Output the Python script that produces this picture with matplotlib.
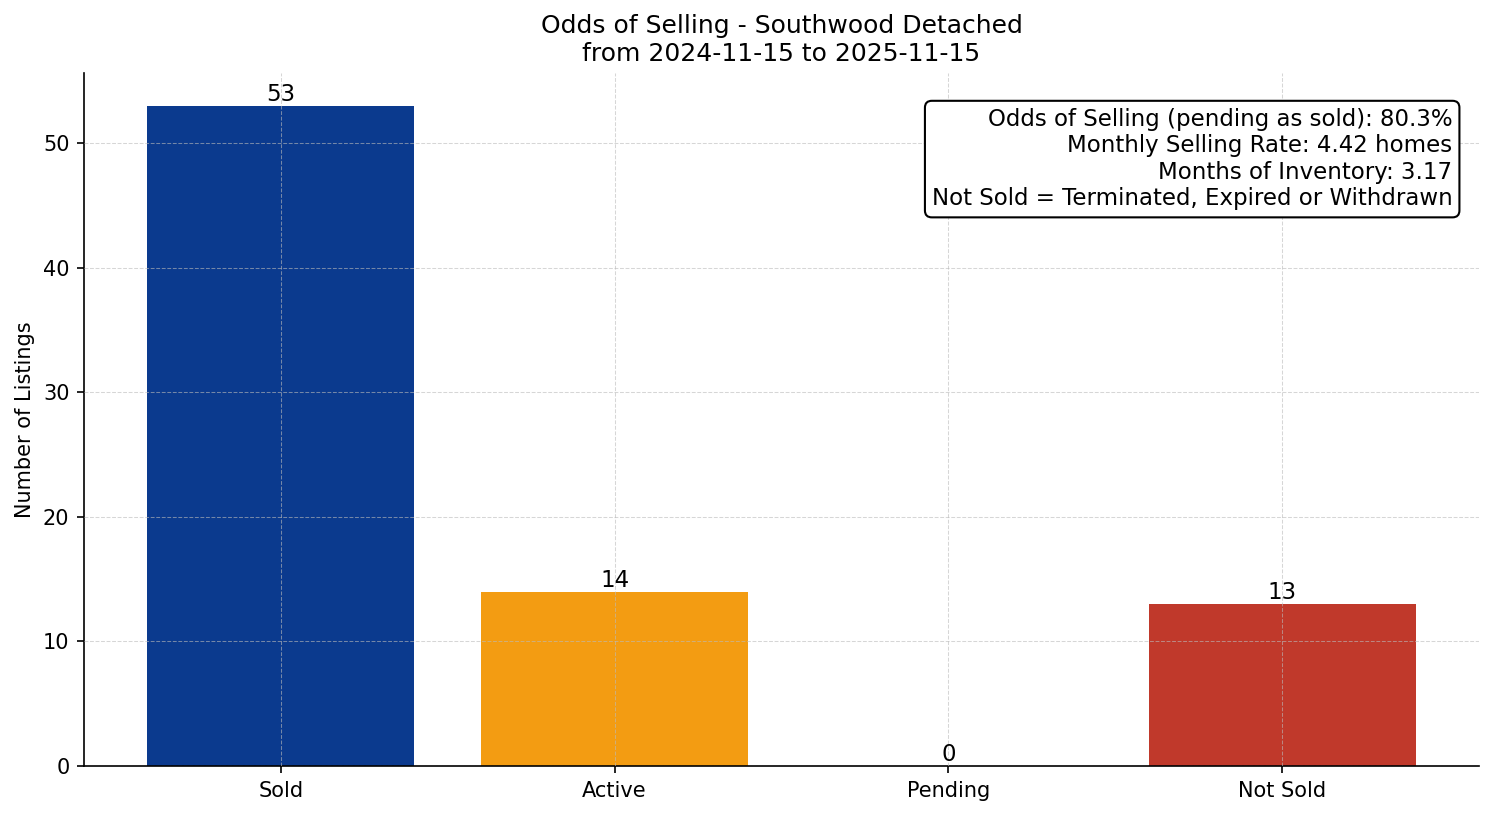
import matplotlib
matplotlib.use('Agg')
import matplotlib.pyplot as plt

# Chart data
categories = ['Sold', 'Active', 'Pending', 'Not Sold']
counts = [53, 14, 0, 13]
bar_colors = ['#0b3a8e', '#f39c12', '#2e86c1', '#c0392b']

odds_of_selling = 80.3
monthly_rate = 4.42
months_inventory = 3.17


def main():
    fig, ax = plt.subplots(figsize=(9.96, 5.44), dpi=150)

    bars = ax.bar(categories, counts, color=bar_colors, width=0.8)

    # Value labels above each bar
    for bar, value in zip(bars, counts):
        ax.text(bar.get_x() + bar.get_width() / 2, bar.get_height(), str(value),
                ha='center', va='bottom', fontsize=11)

    ax.set_ylabel('Number of Listings')
    ax.set_title('Odds of Selling - Southwood Detached\nfrom 2024-11-15 to 2025-11-15', fontsize=12)

    # Dashed grid drawn over the bars
    ax.set_axisbelow(False)
    ax.grid(True, linestyle='--', linewidth=0.5, color='#bbbbbb', alpha=0.6)

    ax.spines['top'].set_visible(False)
    ax.spines['right'].set_visible(False)

    summary = (f'Odds of Selling (pending as sold): {odds_of_selling:.1f}%\n'
               f'Monthly Selling Rate: {monthly_rate:.2f} homes\n'
               f'Months of Inventory: {months_inventory:.2f}\n'
               'Not Sold = Terminated, Expired or Withdrawn')
    ax.text(0.981, 0.95, summary, transform=ax.transAxes, ha='right', va='top',
            fontsize=11, multialignment='right',
            bbox=dict(boxstyle='round,pad=0.3', facecolor='white', edgecolor='black'))

    fig.subplots_adjust(left=0.0562, right=0.99, top=0.9105, bottom=0.0613)
    plt.savefig('out.png', dpi=150)


if __name__ == "__main__":
    main()
